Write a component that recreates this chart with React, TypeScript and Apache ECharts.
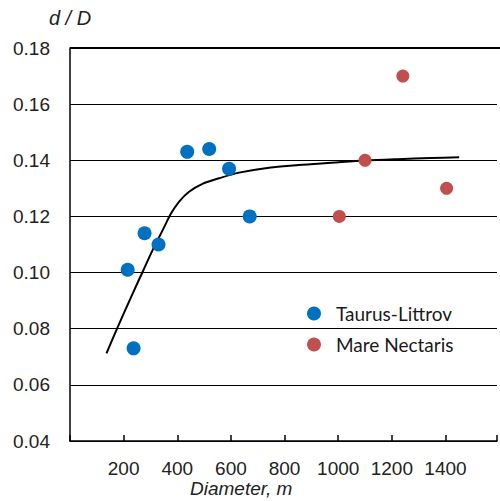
import React, { useEffect, useRef } from "react";
import * as echarts from "echarts";

const taurusDiameters = [215, 237, 278, 330, 437, 519, 593, 670];
const taurusRatios = [0.101, 0.073, 0.114, 0.110, 0.143, 0.144, 0.137, 0.120];
const nectarisDiameters = [1004, 1100, 1241, 1404];
const nectarisRatios = [0.120, 0.140, 0.170, 0.130];
const fitDiameters = [136, 173, 234, 271, 308, 346, 377, 407, 444, 494, 556, 630, 729, 852, 975, 1099, 1222, 1346, 1451];
const fitRatios = [0.0712, 0.0795, 0.0926, 0.1003, 0.108, 0.1152, 0.1211, 0.1253, 0.1288, 0.1316, 0.1336, 0.1356, 0.1372, 0.1383, 0.1391, 0.1399, 0.1404, 0.1408, 0.1411];
const seriesNames = ["Taurus-Littrov", "Mare Nectaris"];
const yTitle = "d / D";
const xTitle = "Diameter, m";

const zip = (xs: number[], ys: number[]) => xs.map((x, i) => [x, ys[i]]);

export default function App() {
  const ref = useRef<HTMLDivElement>(null);
  useEffect(() => {
    if (!ref.current) return;
    const chart = echarts.init(ref.current, undefined, { renderer: "svg" });
    const font = "'Liberation Sans', Arial, sans-serif";
    chart.setOption({
      animation: false,
      backgroundColor: "#ffffff",
      grid: { left: 70, right: 0, top: 48, bottom: 60, containLabel: false },
      legend: {
        data: seriesNames,
        orient: "vertical",
        left: 302,
        top: 298,
        itemWidth: 14,
        itemHeight: 14,
        itemGap: 10,
        textStyle: { fontFamily: "Lato, 'Noto Sans', sans-serif", fontSize: 19, lineHeight: 21, color: "#1a1a1a", padding: [0, 0, 0, 10] },
      },
      xAxis: {
        type: "value",
        min: 0,
        max: 1592,
        interval: 200,
        axisLine: { show: true, lineStyle: { color: "#000", width: 1.5 } },
        axisTick: { show: true, inside: true, length: 6, lineStyle: { color: "#000", width: 1.5 } },
        axisLabel: {
          fontFamily: font,
          fontSize: 19,
          color: "#222",
          margin: 18,
          formatter: (v: number) => (v > 0 && v <= 1400 ? String(v) : ""),
        },
        splitLine: { show: false },
      },
      yAxis: {
        type: "value",
        min: 0.04,
        max: 0.18,
        interval: 0.02,
        name: yTitle,
        nameLocation: "end",
        nameGap: 20,
        nameTextStyle: { fontFamily: font, fontSize: 20, fontStyle: "italic", color: "#222" },
        axisLine: { show: true, lineStyle: { color: "#000", width: 1.5 } },
        axisTick: { show: true, inside: true, length: 5, lineStyle: { color: "#000", width: 1 } },
        axisLabel: {
          fontFamily: font,
          fontSize: 19,
          color: "#222",
          margin: 20,
          formatter: (v: number) => v.toFixed(2),
        },
        splitLine: { show: true, lineStyle: { color: "#000", width: 1 } },
      },
      graphic: [
        {
          type: "text",
          left: 190,
          top: 479,
          style: { text: xTitle, fontFamily: font, fontSize: 19, fontStyle: "italic", fill: "#222" },
        },
        {
          type: "line",
          shape: { x1: 70, y1: 48, x2: 500, y2: 48 },
          style: { stroke: "#000", lineWidth: 2 },
        },
      ],
      series: [
        {
          name: "fit",
          type: "line",
          data: zip(fitDiameters, fitRatios),
          smooth: 0.3,
          showSymbol: false,
          lineStyle: { color: "#000", width: 2 },
          z: 3,
        },
        {
          name: seriesNames[0],
          type: "scatter",
          data: zip(taurusDiameters, taurusRatios),
          symbol: "circle",
          symbolSize: 14,
          itemStyle: { color: "#0070C0", opacity: 1 },
          z: 4,
        },
        {
          name: seriesNames[1],
          type: "scatter",
          data: zip(nectarisDiameters, nectarisRatios),
          symbol: "circle",
          symbolSize: 13,
          itemStyle: { color: "#C0504D", opacity: 1 },
          z: 4,
        },
      ],
    });
    return () => chart.dispose();
  }, []);
  return <div ref={ref} style={{ width: 500, height: 501, position: "absolute", left: 0, top: 0 }} />;
}
